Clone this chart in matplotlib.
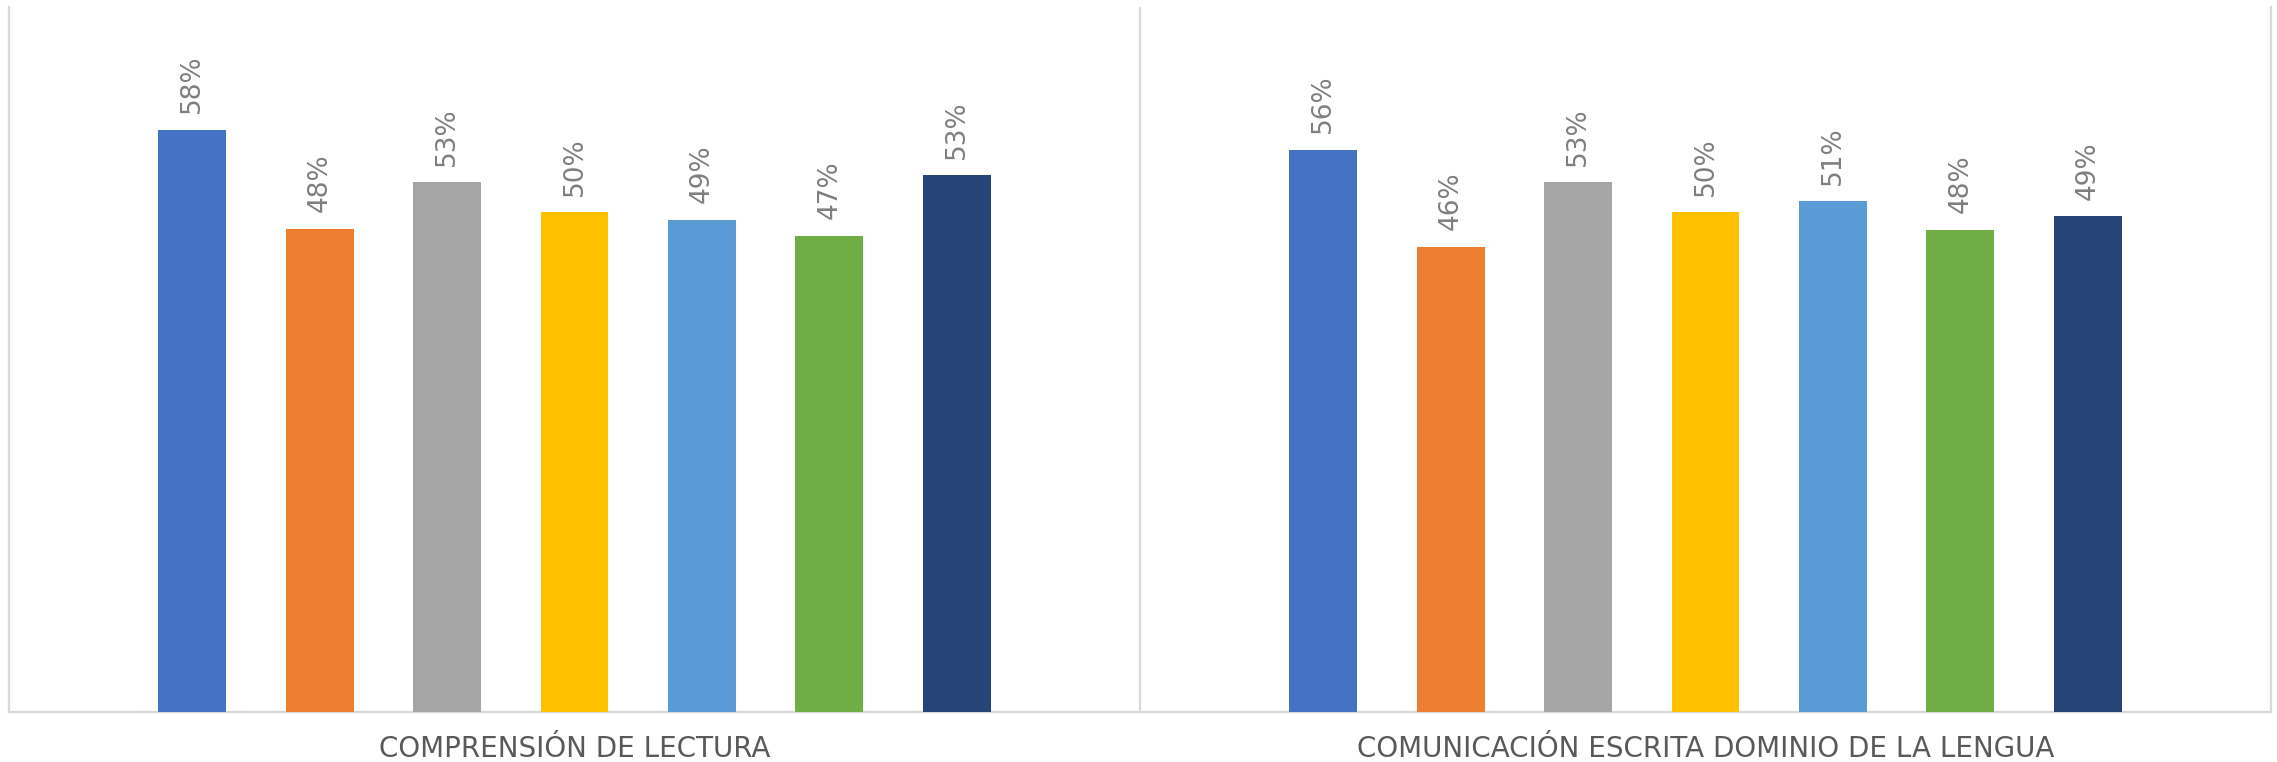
import matplotlib
matplotlib.use("Agg")
import matplotlib.pyplot as plt
import matplotlib.transforms as mtransforms
import numpy as np

categories = ["COMPRENSIÓN DE LECTURA", "COMUNICACIÓN ESCRITA DOMINIO DE LA LENGUA"]
series_values = [
    [0.578, 0.558],
    [0.480, 0.462],
    [0.526, 0.526],
    [0.496, 0.496],
    [0.489, 0.507],
    [0.473, 0.479],
    [0.533, 0.492],
]
colors = ["#4472C4", "#ED7D31", "#A5A5A5", "#FFC000", "#5B9BD5", "#70AD47", "#264478"]

FONT = ["DejaVu Sans"]

W, H = 2277, 762
fig = plt.figure(figsize=(W / 100, H / 100), dpi=100)
ax = fig.add_axes([9 / W, (H - 712) / H, (2271 - 9) / W, (712 - 7) / H])

n = len(series_values)
bw = 0.0601
step = 0.1127
x = np.arange(len(categories))
for i, (vals, c) in enumerate(zip(series_values, colors)):
    xs = x + (i - (n - 1) / 2) * step
    bars = ax.bar(xs, vals, width=bw, color=c, zorder=3)
    for b, v in zip(bars, vals):
        ax.annotate(f"{round(v * 100):.0f}%",
                    xy=(b.get_x() + b.get_width() / 2, b.get_height()),
                    xytext=(0, 12), textcoords="offset points",
                    rotation=90, ha="center", va="bottom",
                    fontsize=19, color="#7f7f7f", family=FONT)

ax.set_xlim(-0.5, 1.5)
ax.set_ylim(0, 0.70)
ax.set_yticks([])
ax.set_xticks([])
for s in ["left", "right", "bottom"]:
    ax.spines[s].set_color("#d9d9d9")
    ax.spines[s].set_linewidth(1.6)
ax.spines["top"].set_visible(False)
ax.axvline(0.5, color="#d9d9d9", lw=1.6, zorder=1)

trans = mtransforms.blended_transform_factory(ax.transData, fig.transFigure)
for xi, cat in zip(x, categories):
    fig.text(xi, 5 / H, cat, transform=trans, ha="center", va="baseline",
             fontsize=20, color="#595959", family=FONT)

fig.savefig("out.png", dpi=100, facecolor="white")
